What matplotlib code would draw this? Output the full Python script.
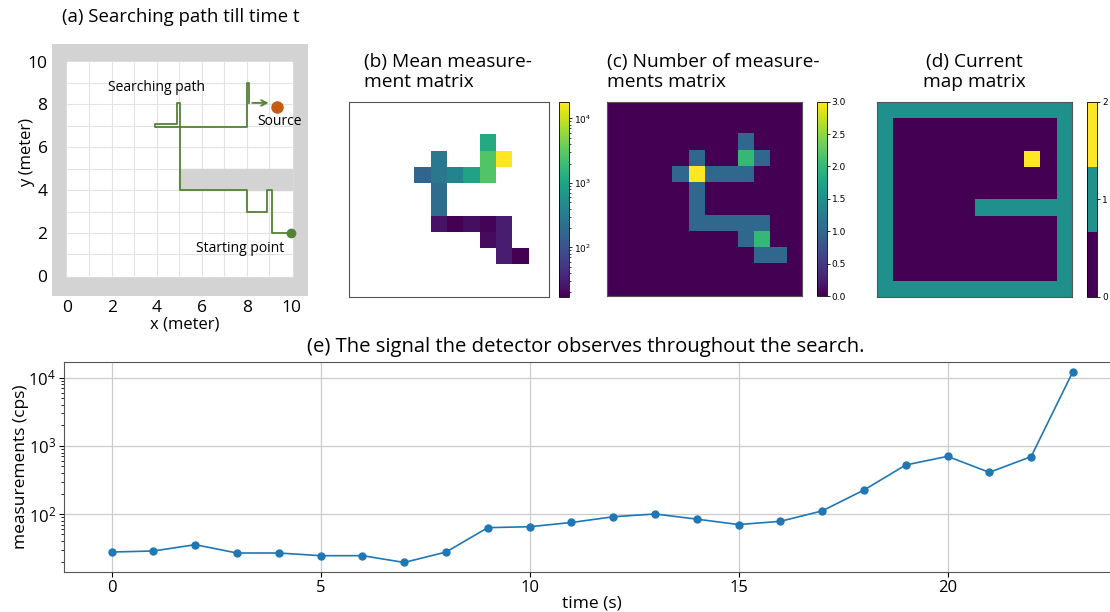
import matplotlib.pyplot as plt
import numpy as np
from matplotlib.colors import LogNorm
import matplotlib.patches as mpatches

plt.rcParams['font.family'] = ['Open Sans', 'DejaVu Sans']

# (a) searching path in the room (meters)
path_x = [9.95, 9.12, 9.12, 8.9, 8.9, 8.0, 8.0, 5.04, 5.04, 4.9, 4.9, 3.93, 3.93, 8.0, 8.0, 8.12, 8.12]
path_y = [2.02, 2.02, 4.02, 4.02, 2.98, 2.98, 4.02, 4.02, 8.07, 8.07, 7.09, 7.09, 6.93, 6.93, 9.02, 9.02, 8.07]
arrow_end = (9.1, 8.07)
source_xy = (9.36, 7.86)
start_xy = (9.96, 2.02)
room = (0, 0, 10, 10)          # x, y, width, height
inner_wall = (5, 4, 5, 1)

# (b)-(c) visited cells (row, col) of the 12x12 matrices
cell_rows = [2, 3, 3, 3, 4, 4, 4, 4, 4, 5, 6, 7, 7, 7, 7, 7, 8, 8, 9, 9]
cell_cols = [8, 5, 8, 9, 4, 5, 6, 7, 8, 5, 5, 5, 6, 7, 8, 9, 8, 9, 9, 10]
mean_vals = [1180, 275, 2700, 17800, 166, 270, 390, 950, 2700, 205, 205,
             24, 17, 22, 18, 30, 21, 29, 29, 17]
count_vals = [1, 1, 2, 1, 1, 3, 1, 1, 1, 1, 1, 1, 1, 1, 1, 1, 1, 2, 1, 1]

# (d) current map matrix: 1 wall, 2 source estimate, 0 free
map_rows = [
    "111111111111",
    "100000000001",
    "100000000001",
    "100000000201",
    "100000000001",
    "100000000001",
    "100000111111",
    "100000000001",
    "100000000001",
    "100000000001",
    "100000000001",
    "111111111111",
]

# (e) detector signal
time_s = list(range(24))
measurements = [27.6, 28.6, 35.4, 26.7, 26.7, 24.4, 24.4, 19.4, 27.6, 63, 65, 75,
                91, 100, 84, 70, 78, 111, 225, 525, 703, 409, 697, 12400]

mean_mat = np.full((12, 12), np.nan)
count_mat = np.zeros((12, 12))
for r, c, m, n in zip(cell_rows, cell_cols, mean_vals, count_vals):
    mean_mat[r, c] = m
    count_mat[r, c] = n
map_mat = np.array([[int(ch) for ch in row] for row in map_rows])

W, H = 1110, 612
fig = plt.figure(figsize=(11.1, 6.12), dpi=100)

def box(x0, y0, x1, y1):
    return [x0 / W, 1 - y1 / H, (x1 - x0) / W, (y1 - y0) / H]

gray = '#d3d3d3'
green = '#548235'

# ---- (a)
ax = fig.add_axes(box(51.7, 44, 308.3, 296))
ax.set_facecolor(gray)
ax.add_patch(mpatches.Rectangle(room[:2], room[2], room[3], color='white', zorder=0.5))
ax.vlines(range(1, 10), 0, 10, color='#e3e3e3', lw=0.8, zorder=1)
ax.hlines(range(1, 10), 0, 10, color='#e3e3e3', lw=0.8, zorder=1)
ax.add_patch(mpatches.Rectangle(inner_wall[:2], inner_wall[2], inner_wall[3], color=gray, zorder=2))
ax.plot(path_x, path_y, color=green, lw=1.3, zorder=3)
ax.annotate('', xy=arrow_end, xytext=(path_x[-1], path_y[-1]),
            arrowprops=dict(arrowstyle='->', color=green, lw=1.3), zorder=3)
ax.plot(*source_xy, 'o', color='#c55a11', ms=8, zorder=4)
ax.plot(*start_xy, 'o', color=green, ms=6, zorder=4)
ax.text(4.0, 8.8, 'Searching path', ha='center', va='center', fontsize=10)
ax.text(9.45, 7.2, 'Source', ha='center', va='center', fontsize=10)
ax.text(7.7, 1.3, 'Starting point', ha='center', va='center', fontsize=10)
ax.set_xlim(-0.67, 10.74)
ax.set_ylim(-0.94, 10.82)
ax.set_xticks([0, 2, 4, 6, 8, 10])
ax.set_yticks([0, 2, 4, 6, 8, 10])
ax.tick_params(length=0, pad=3, labelsize=12.5)
for s in ax.spines.values():
    s.set_visible(False)
ax.set_xlabel('x (meter)', fontsize=12)
ax.set_ylabel('y (meter)', fontsize=12)
ax.xaxis.set_label_coords(0.52, -0.08)
ax.yaxis.set_label_coords(-0.065, 0.571)
fig.text(62 / W, 1 - 17 / H, '(a) Searching path till time t', ha='left', va='center', fontsize=13.4)

# ---- (b), (c), (d)
def matrix_panel(axbox, cbox, mat, **kw):
    a = fig.add_axes(box(*axbox))
    im = a.imshow(mat, interpolation='nearest', aspect='auto', **kw)
    a.set_xticks([])
    a.set_yticks([])
    for s in a.spines.values():
        s.set_color('#555555')
        s.set_linewidth(0.8)
    cax = fig.add_axes(box(*cbox))
    cb = fig.colorbar(im, cax=cax)
    cb.outline.set_linewidth(0.6)
    cax.tick_params(labelsize=6.5, length=2, width=0.6, labelfontfamily='DejaVu Sans', pad=1.5)
    cax.tick_params(which='minor', length=1.2, width=0.5)
    return a, cb

axb, cbb = matrix_panel((349.3, 102.3, 549.3, 296.5), (559.3, 102.3, 569, 297),
                        mean_mat, cmap='viridis', norm=LogNorm())
axb.set_xlim(-0.5, 11.8)
fig.text(364 / W, 1 - 72 / H, '(b) Mean measure-\nment matrix', ha='left', va='center',
         multialignment='left', fontsize=13.8, linespacing=1.12)

axc, cbc = matrix_panel((606.7, 101.7, 802.3, 296), (817.3, 101.7, 826.7, 296),
                        count_mat, cmap='viridis', vmin=0, vmax=3)
fig.text(607 / W, 1 - 72 / H, '(c) Number of measure-\nments matrix', ha='left', va='center',
         multialignment='left', fontsize=13.8, linespacing=1.12)

axd, cbd = matrix_panel((876.7, 101.7, 1072.3, 296.7), (1087.3, 101.7, 1097.3, 296.7),
                        map_mat, cmap=plt.get_cmap('viridis', 3), vmin=0, vmax=2)
cbd.set_ticks([0, 1, 2])
fig.text(974 / W, 1 - 72 / H, '(d) Current\nmap matrix', ha='center', va='center',
         multialignment='center', fontsize=13.8, linespacing=1.12)

# ---- (e)
axe = fig.add_axes(box(63.6, 362, 1121, 572))
axe.plot(time_s, measurements, 'o-', color='#1f77b4', lw=1.2, ms=5)
axe.set_yscale('log')
axe.grid(True, color='#cccccc', lw=0.9)
axe.set_axisbelow(True)
axe.set_xticks([0, 5, 10, 15, 20])
axe.tick_params(labelsize=12, pad=2)
for s in axe.spines.values():
    s.set_color('#555555')
axe.set_xlabel('time (s)', fontsize=12.5, labelpad=0)
axe.set_ylabel('measurements (cps)', fontsize=12.5)
axe.yaxis.set_label_coords(-0.033, 0.5)
fig.text(586 / W, 1 - 347 / H, '(e) The signal the detector observes throughout the search.',
         ha='center', va='center', fontsize=14.6)

fig.savefig('out.png', dpi=100)
